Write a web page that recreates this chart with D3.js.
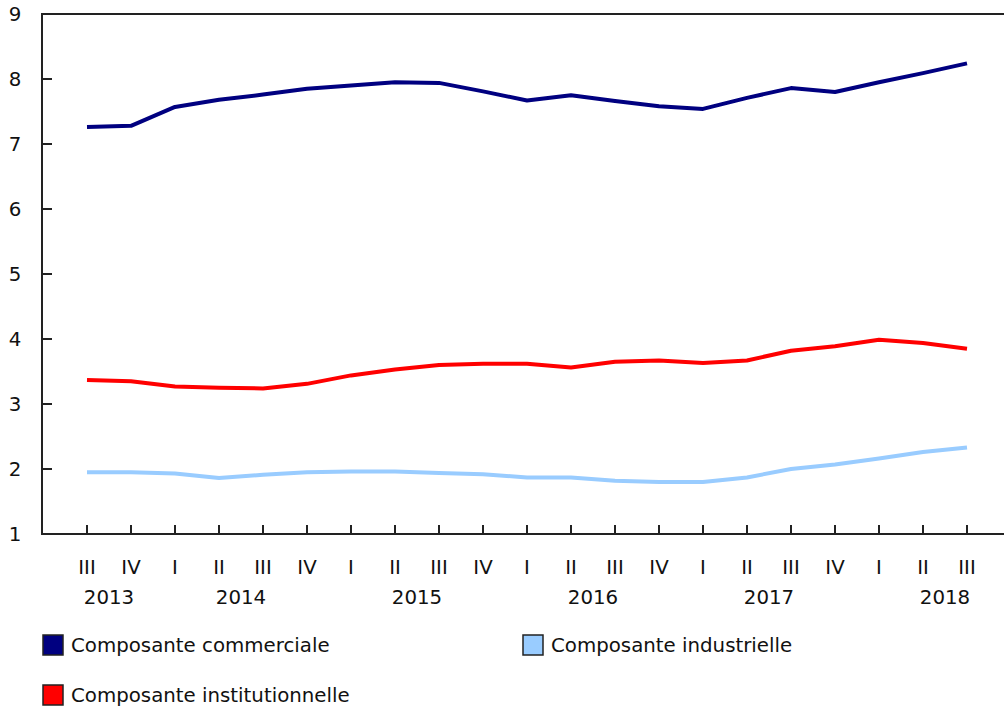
<!DOCTYPE html>
<html>
<head>
<meta charset="utf-8">
<script src="https://cdn.jsdelivr.net/npm/d3@7"></script>
<style>
  body { margin: 0; background: #fff; }
  svg text { font-family: Verdana, "DejaVu Sans", sans-serif; fill: #111; }
</style>
</head>
<body>
<svg id="chart"></svg>
<script>
var quarters = ["III","IV","I","II","III","IV","I","II","III","IV","I","II","III","IV","I","II","III","IV","I","II","III"];
var years = ["2013","2014","2015","2016","2017","2018"];
// quarter index each year label is centred on
var yearPos = [0.5, 3.5, 7.5, 11.5, 15.5, 19.5];

var commerciale = [7.26,7.28,7.57,7.68,7.76,7.85,7.90,7.95,7.94,7.81,7.67,7.75,7.66,7.58,7.54,7.71,7.86,7.80,7.95,8.09,8.24];
var institutionnelle = [3.37,3.35,3.27,3.25,3.24,3.31,3.44,3.53,3.60,3.62,3.62,3.56,3.65,3.67,3.63,3.67,3.82,3.89,3.99,3.94,3.85];
var industrielle = [1.95,1.95,1.93,1.86,1.91,1.95,1.96,1.96,1.94,1.92,1.87,1.87,1.82,1.80,1.80,1.87,2.00,2.07,2.16,2.26,2.33];

var yTicks = [1,2,3,4,5,6,7,8,9];

var seriesNames = ["Composante commerciale", "Composante industrielle", "Composante institutionnelle"];
var seriesColors = ["#000080", "#99ccff", "#ff0000"];

var width = 1004, height = 707;
var plotLeft = 42, plotTop = 14, plotBottom = 534, plotRight = 1004;
var fontSize = "19.8px";

var svg = d3.select("#chart").attr("width", width).attr("height", height);

var x = d3.scaleLinear()
    .domain([-45/44, (plotRight - plotLeft - 45)/44])
    .range([plotLeft, plotRight]);

var y = d3.scaleLinear()
    .domain([1, 9])
    .range([plotBottom, plotTop]);

// frame: left, top, bottom lines
svg.append("line").attr("x1", plotLeft).attr("x2", plotRight).attr("y1", plotTop).attr("y2", plotTop)
    .attr("stroke", "#222").attr("stroke-width", 2);
svg.append("line").attr("x1", plotLeft).attr("x2", plotRight).attr("y1", plotBottom).attr("y2", plotBottom)
    .attr("stroke", "#222").attr("stroke-width", 2);
svg.append("line").attr("x1", plotLeft).attr("x2", plotLeft).attr("y1", plotTop - 1).attr("y2", plotBottom + 1)
    .attr("stroke", "#222").attr("stroke-width", 2);

// y ticks (inward)
svg.selectAll(".ytick").data(yTicks).enter().append("line")
    .attr("x1", plotLeft).attr("x2", plotLeft + 10)
    .attr("y1", d => y(d)).attr("y2", d => y(d))
    .attr("stroke", "#222").attr("stroke-width", 2);
svg.selectAll(".ylab").data(yTicks).enter().append("text")
    .attr("x", 15).attr("y", d => y(d))
    .attr("dy", "0.36em")
    .attr("text-anchor", "middle")
    .style("font-size", fontSize)
    .text(d => d);

// x ticks (inward)
svg.selectAll(".xtick").data(quarters).enter().append("line")
    .attr("x1", (d, i) => x(i)).attr("x2", (d, i) => x(i))
    .attr("y1", plotBottom).attr("y2", plotBottom - 9)
    .attr("stroke", "#222").attr("stroke-width", 2);
svg.selectAll(".qlab").data(quarters).enter().append("text")
    .attr("x", (d, i) => x(i)).attr("y", 574)
    .attr("text-anchor", "middle")
    .style("font-size", fontSize)
    .text(d => d);
svg.selectAll(".yearlab").data(years).enter().append("text")
    .attr("x", (d, i) => x(yearPos[i])).attr("y", 604)
    .attr("text-anchor", "middle")
    .style("font-size", fontSize)
    .text(d => d);

// lines
var line = d3.line()
    .x((d, i) => x(i))
    .y(d => y(d));

var drawOrder = [[industrielle, seriesColors[1]], [institutionnelle, seriesColors[2]], [commerciale, seriesColors[0]]];
drawOrder.forEach(function(s){
    svg.append("path")
        .datum(s[0])
        .attr("d", line)
        .attr("fill", "none")
        .attr("stroke", s[1])
        .attr("stroke-width", 4)
        .attr("stroke-linejoin", "round");
});

// legend
var legPos = [[42, 634], [522, 634], [42, 684]];
seriesNames.forEach(function(name, i){
    var g = svg.append("g").attr("transform", "translate(" + legPos[i][0] + "," + legPos[i][1] + ")");
    g.append("rect")
        .attr("x", 1).attr("y", 1)
        .attr("width", 20).attr("height", 20)
        .attr("fill", seriesColors[i])
        .attr("stroke", "#222").attr("stroke-width", 1.5);
    g.append("text")
        .attr("x", 29).attr("y", 11)
        .attr("dy", "0.36em")
        .style("font-size", fontSize)
        .text(name);
});
</script>
</body>
</html>
